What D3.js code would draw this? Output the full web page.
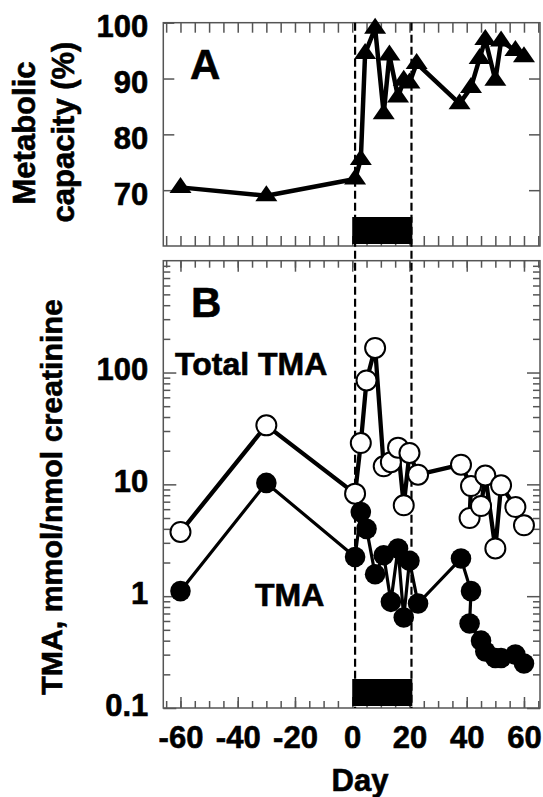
<!DOCTYPE html>
<html>
<head>
<meta charset="utf-8">
<script src="https://cdn.jsdelivr.net/npm/d3@7"></script>
<style>
    body { margin: 0; background: #fff; }
    text { font-family: "Liberation Sans", Arial, sans-serif; font-weight: bold; fill: #000; stroke: #000; stroke-width: 0.6px; }
</style>
</head>
<body>
<div id="chart"></div>
<script>
// panel A: metabolic capacity
const daysA = [-60, -30, 1, 3, 4.5, 8, 11, 13, 16, 18, 20, 22.5, 37.5, 41.5, 44.5, 46.5, 50, 52, 57, 60];
const capacity = [70.5, 69, 72, 75.5, 94.5, 99, 83.7, 94.2, 86.7, 89.7, 89.2, 92.7, 85.5, 88.4, 93.6, 97, 89.7, 96.7, 95, 93.9];

// panel B: total TMA (open) and TMA (filled)
const daysB = [-60, -30, 1, 3, 5, 8, 11, 13.5, 16, 18, 20, 23, 38, 41.5, 41, 45, 46.5, 50, 52, 57, 60];
const totalTMA = [3.75, 33.7, 8.26, 23.4, 84.9, 166, 14.5, 15.8, 21.3, 6.5, 19.1, 12.2, 15, 9.66, 5.0, 6.4, 12, 2.67, 9.8, 6.27, 4.3];
const freeTMA = [1.11, 10.3, 2.24, 5.66, 4.0, 1.57, 2.32, 0.89, 2.67, 0.645, 2.07, 0.86, 2.17, 1.11, 0.57, 0.40, 0.32, 0.28, 0.28, 0.30, 0.25];

const dayTicks = [-60, -40, -20, 0, 20, 40, 60];
const dayMinor = d3.range(-65, 66, 5);
const capTicks = [70, 80, 90, 100];
const tmaTicks = [0.1, 1, 10, 100];
const tmaMinor = [0.1, 1, 10, 100].flatMap(d => d3.range(2, 10).map(k => k * d));
const treatment = [0, 21];
const treatLines = [1, 20.7];

const width = 543, height = 797;
const margin = { left: 163.3, right: 3 };
const panelA = { top: 22.7, bottom: 246 };
const panelB = { top: 260.7, bottom: 708 };
const axisColor = "#555";

const svg = d3.select("#chart")
    .append("svg")
    .attr("width", width)
    .attr("height", height);

// scales

const x = d3.scaleLinear()
    .domain([-66, 65.6])
    .range([margin.left, width - margin.right]);

const yA = d3.scaleLinear()
    .domain([60, 100])
    .range([panelA.bottom, panelA.top]);

const yB = d3.scaleLog()
    .domain([0.1, 1000])
    .range([panelB.bottom, panelB.top]);

// ticks helper: inward ticks on all four sides
function addAxis(axis, transform) {
    const g = svg.append("g")
        .attr("transform", transform)
        .call(axis);
    g.select(".domain").remove();
    g.selectAll("line").attr("stroke", axisColor).attr("stroke-width", 1.5);
    return g;
}

function frame(panel) {
    svg.append("rect")
        .attr("x", margin.left)
        .attr("y", panel.top)
        .attr("width", width - margin.right - margin.left)
        .attr("height", panel.bottom - panel.top)
        .attr("fill", "none")
        .attr("stroke", axisColor)
        .attr("stroke-width", 1.5);
}

// panel A axes
frame(panelA);
addAxis(d3.axisBottom(x).tickValues(dayMinor).tickSize(-10).tickFormat(""), `translate(0,${panelA.bottom})`);
addAxis(d3.axisTop(x).tickValues(dayMinor).tickSize(-10).tickFormat(""), `translate(0,${panelA.top})`);
addAxis(d3.axisRight(yA).tickValues(capTicks.slice(0, 3)).tickSize(-11).tickFormat(""), `translate(${width - margin.right},0)`);
const yAxisA = addAxis(d3.axisLeft(yA).tickValues(capTicks).tickSize(-11).tickFormat(d => d), `translate(${margin.left},0)`);
yAxisA.selectAll("text")
    .attr("x", -15)
    .attr("dy", null)
    .attr("y", 14)
    .attr("text-anchor", "end")
    .style("font-size", "31px");

// panel B axes
frame(panelB);
addAxis(d3.axisBottom(x).tickValues(dayMinor).tickSize(-7).tickFormat(""), `translate(0,${panelB.bottom})`);
addAxis(d3.axisTop(x).tickValues(dayMinor).tickSize(-7).tickFormat(""), `translate(0,${panelB.top})`);
addAxis(d3.axisTop(x).tickValues(dayTicks).tickSize(-11).tickFormat(""), `translate(0,${panelB.top})`);
const xAxisB = addAxis(d3.axisBottom(x).tickValues(dayTicks).tickSize(-11).tickFormat(d => String(d)), `translate(0,${panelB.bottom})`);
xAxisB.selectAll("text")
    .attr("dy", null)
    .attr("y", 40)
    .style("font-size", "31px");

addAxis(d3.axisLeft(yB).tickValues(tmaMinor).tickSize(-7).tickFormat(""), `translate(${margin.left},0)`);
addAxis(d3.axisRight(yB).tickValues(tmaMinor).tickSize(-7).tickFormat(""), `translate(${width - margin.right},0)`);
addAxis(d3.axisRight(yB).tickValues(tmaTicks).tickSize(-13).tickFormat(""), `translate(${width - margin.right},0)`);
const yAxisB = addAxis(d3.axisLeft(yB).tickValues(tmaTicks).tickSize(-13).tickFormat(d => String(d)), `translate(${margin.left},0)`);
yAxisB.selectAll("text")
    .attr("x", -15)
    .attr("dy", null)
    .attr("y", 7)
    .attr("text-anchor", "end")
    .style("font-size", "31px");

// treatment period: dashed lines and bars

svg.selectAll(".treat-line")
    .data(treatLines)
    .join("line")
    .attr("class", "treat-line")
    .attr("x1", d => x(d))
    .attr("x2", d => x(d))
    .attr("y1", panelA.top)
    .attr("y2", panelB.bottom)
    .attr("stroke", "#000")
    .attr("stroke-width", 2.2)
    .attr("stroke-dasharray", "8,4");

[panelA, panelB].forEach(p => {
    svg.append("rect")
        .attr("x", x(treatment[0]))
        .attr("y", p.bottom - 29)
        .attr("width", x(treatment[1]) - x(treatment[0]))
        .attr("height", 27)
        .attr("fill", "#000");
});

// panel A series

const lineA = d3.line().x((d, i) => x(daysA[i])).y(d => yA(d));

svg.append("path")
    .datum(capacity)
    .attr("d", lineA)
    .attr("fill", "none")
    .attr("stroke", "#000")
    .attr("stroke-width", 4.5)
    .attr("stroke-linejoin", "round");

svg.selectAll(".tri")
    .data(capacity)
    .join("path")
    .attr("class", "tri")
    .attr("d", "M0,-10.5L11,5.5L-11,5.5Z")
    .attr("transform", (d, i) => `translate(${x(daysA[i])},${yA(d)})`)
    .attr("fill", "#000");

// panel B series

const lineB = d3.line().x((d, i) => x(daysB[i])).y(d => yB(d));

svg.append("path")
    .datum(totalTMA)
    .attr("d", lineB)
    .attr("fill", "none")
    .attr("stroke", "#000")
    .attr("stroke-width", 4.3)
    .attr("stroke-linejoin", "round");

svg.selectAll(".open")
    .data(totalTMA)
    .join("circle")
    .attr("class", "open")
    .attr("cx", (d, i) => x(daysB[i]))
    .attr("cy", d => yB(d))
    .attr("r", 10)
    .attr("fill", "#fff")
    .attr("stroke", "#000")
    .attr("stroke-width", 2);

svg.append("path")
    .datum(freeTMA)
    .attr("d", lineB)
    .attr("fill", "none")
    .attr("stroke", "#000")
    .attr("stroke-width", 3.2)
    .attr("stroke-linejoin", "round");

svg.selectAll(".filled")
    .data(freeTMA)
    .join("circle")
    .attr("class", "filled")
    .attr("cx", (d, i) => x(daysB[i]))
    .attr("cy", d => yB(d))
    .attr("r", 10.3)
    .attr("fill", "#000");

// labels

svg.append("text").attr("x", 190).attr("y", 79).style("font-size", "42px").text("A");
svg.append("text").attr("x", 191).attr("y", 316.7).style("font-size", "42px").text("B");
svg.append("text").attr("x", 175).attr("y", 375).style("font-size", "32px").text("Total TMA");
svg.append("text").attr("x", 255).attr("y", 606).style("font-size", "32px").text("TMA");

svg.append("text")
    .attr("transform", "translate(35,133) rotate(-90)")
    .attr("text-anchor", "middle")
    .style("font-size", "31px")
    .text("Metabolic");

svg.append("text")
    .attr("transform", "translate(74,132) rotate(-90)")
    .attr("text-anchor", "middle")
    .style("font-size", "31px")
    .text("capacity (%)");

svg.append("text")
    .attr("transform", "translate(62,497) rotate(-90)")
    .attr("text-anchor", "middle")
    .style("font-size", "30.3px")
    .text("TMA, mmol/nmol creatinine");

svg.append("text")
    .attr("x", 360)
    .attr("y", 791)
    .attr("text-anchor", "middle")
    .style("font-size", "31px")
    .text("Day");
</script>
</body>
</html>
